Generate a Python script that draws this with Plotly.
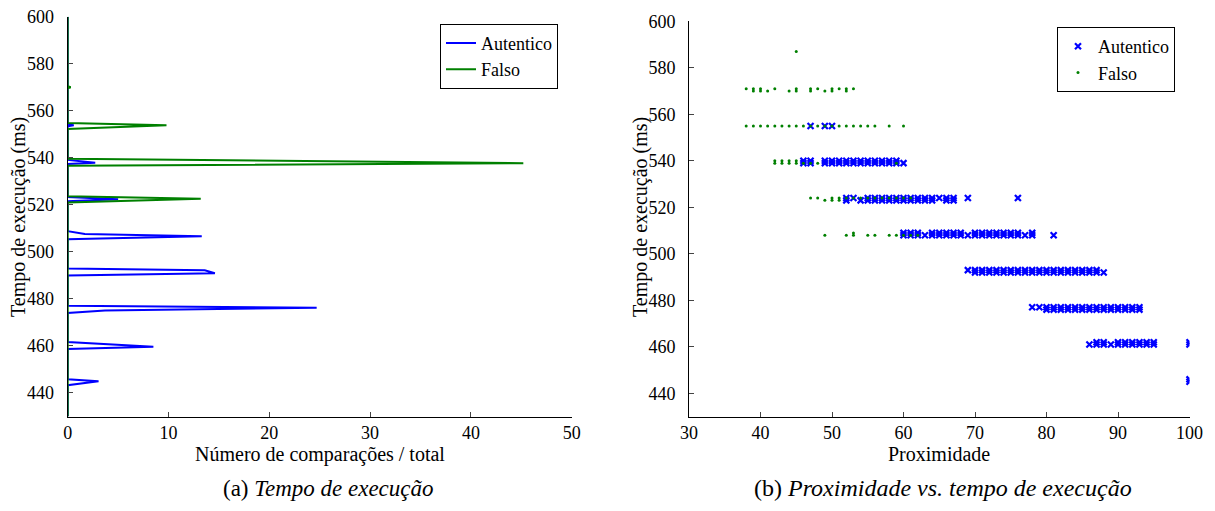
import plotly.graph_objects as go

# ---------------- Left panel: histogram-like lines (time vs. fraction) ----------------
autentico_tempo = [430, 443.3, 445.0, 445.8, 458.7, 459.7, 461.7, 474.0, 475.1, 476.2, 477.1,
                   490.0, 490.9, 492.2, 492.9, 505.4, 506.6, 507.6, 508.8, 521.5, 522.4, 523.3,
                   537.4, 537.9, 539.1, 553.4, 553.8, 554.2, 600]
autentico_frac = [0, 0, 3.06, 0, 0, 8.5, 0, 0, 3.7, 24.7, 0,
                  0, 14.6, 13.6, 0, 0, 13.3, 1.7, 0, 0, 5.0, 0,
                  0, 2.73, 0, 0, 0.6, 0, 0]
falso_tempo = [430, 521.0, 522.6, 523.7, 536.6, 537.7, 539.6, 552.3, 553.8, 554.8,
               569.6, 570.0, 570.4, 600]
falso_frac = [0, 0, 13.2, 0, 0, 45.2, 0, 0, 9.8, 0, 0, 0.3, 0, 0]

# ---------------- Right panel: proximity vs. execution time ----------------
aut_446 = [100]
aut_445 = [100]
aut_461 = [86, 87, 88, 89, 90, 91, 92, 93, 94, 95, 100]
aut_462 = [87, 88, 90, 91, 92, 93, 94, 95, 100]
aut_477 = [78, 79, 80, 81, 82, 83, 84, 85, 86, 87, 88, 89, 90, 91, 92, 93]
aut_476 = [80, 81, 82, 83, 84, 85, 86, 87, 88, 89, 90, 91, 92, 93]
aut_492 = [70, 71, 72, 73, 74, 75, 76, 77, 78, 79, 80, 81, 82, 83, 84, 85, 86, 87, 88]
aut_493 = [69, 70, 71, 72, 73, 74, 75, 76, 77, 78, 79, 80, 81, 82, 83, 84, 85, 86, 87]
aut_508 = [60, 61, 62, 63, 64, 65, 66, 67, 68, 69, 70, 71, 72, 73, 74, 75, 76, 77, 78, 81]
aut_509 = [60, 61, 62, 64, 65, 66, 67, 68, 70, 71, 72, 73, 74, 75, 76, 78]
aut_524 = [52, 53, 55, 56, 57, 58, 59, 60, 61, 62, 63, 64, 65, 66, 67, 69, 76]
aut_523 = [52, 54, 55, 56, 57, 58, 59, 60, 61, 62, 63, 64, 66, 67]
aut_539 = [46, 47, 49, 50, 51, 52, 53, 54, 55, 56, 57, 58, 59, 60]
aut_540 = [46, 47, 49, 50, 51, 52, 53, 54, 55, 56, 57, 58, 59]
aut_555 = [47, 49, 50]

fal_587 = [45]
fal_571 = [38, 39, 40, 42, 45, 47, 48, 50, 51, 52, 53]
fal_570 = [39, 40, 41, 44, 45, 47, 49, 50, 52]
fal_555 = [38, 39, 40, 41, 42, 43, 44, 45, 46, 47, 48, 49, 50, 51, 52, 53, 54, 55, 56, 58, 60]
fal_540 = [42, 43, 44, 45]
fal_539 = [42, 43, 44, 45, 46, 47, 48, 59]
fal_524 = [47, 48, 50, 51, 52, 53, 54, 55, 56, 57, 58, 59, 60, 61]
fal_523 = [49, 50, 51]
fal_509 = [53]
fal_508 = [49, 52, 53, 55, 56, 58, 59, 60, 61, 62]

aut_rows = [(446, aut_446), (445, aut_445), (461, aut_461), (462, aut_462), (477, aut_477),
            (476, aut_476), (492, aut_492), (493, aut_493), (508, aut_508), (509, aut_509),
            (524, aut_524), (523, aut_523), (539, aut_539), (540, aut_540), (555, aut_555)]
fal_rows = [(587, fal_587), (571, fal_571), (570, fal_570), (555, fal_555), (540, fal_540),
            (539, fal_539), (524, fal_524), (523, fal_523), (509, fal_509), (508, fal_508)]

aut_x, aut_y = [], []
for t, xs in aut_rows:
    aut_x += xs
    aut_y += [t] * len(xs)
fal_x, fal_y = [], []
for t, xs in fal_rows:
    fal_x += xs
    fal_y += [t] * len(xs)

BLUE = "#0000FF"
GREEN = "#008000"
FONT = "Liberation Serif"
W, H = 1215, 511

fig = go.Figure()
fig.add_trace(go.Scatter(x=autentico_frac, y=autentico_tempo, mode="lines", name="Autentico",
                         line=dict(color=BLUE, width=2), xaxis="x", yaxis="y", legend="legend"))
fig.add_trace(go.Scatter(x=falso_frac, y=falso_tempo, mode="lines", name="Falso",
                         line=dict(color=GREEN, width=2), xaxis="x", yaxis="y", legend="legend"))
fig.add_trace(go.Scatter(x=aut_x, y=aut_y, mode="markers", name="Autentico",
                         marker=dict(symbol="x-thin", size=6, line=dict(color=BLUE, width=2.2), color=BLUE),
                         xaxis="x2", yaxis="y2", legend="legend2"))
fig.add_trace(go.Scatter(x=fal_x, y=fal_y, mode="markers", name="Falso",
                         marker=dict(symbol="circle", size=3, color=GREEN),
                         xaxis="x2", yaxis="y2", legend="legend2"))

def px_x(p):
    return p / W

def px_y(p):
    return (H - p) / H

axis_common = dict(showline=True, linecolor="black", linewidth=1, ticks="inside", ticklen=5,
                   tickcolor="#444", showgrid=False, zeroline=False, mirror=False,
                   automargin=False,
                   tickfont=dict(family=FONT, size=18, color="black"))

fig.update_layout(
    width=W, height=H, margin=dict(l=0, r=0, t=0, b=0, autoexpand=False),
    paper_bgcolor="white", plot_bgcolor="white",
    font=dict(family=FONT, size=18, color="black"),
    xaxis=dict(domain=[px_x(67.7), px_x(571.7)], range=[0, 50], dtick=10, anchor="y",
               ticklabelstandoff=0, **axis_common),
    yaxis=dict(domain=[px_y(416.5), px_y(16.7)], range=[430, 600], tick0=0, dtick=20, anchor="x",
               ticklabelstandoff=9, **axis_common),
    xaxis2=dict(domain=[px_x(689), px_x(1189.5)], range=[30, 100], dtick=10, anchor="y2",
                ticklabelstandoff=0, **axis_common),
    yaxis2=dict(domain=[px_y(416.6), px_y(21.3)], range=[430, 600], tick0=0, dtick=20, anchor="x2",
                ticklabelstandoff=9, **axis_common),
    legend=dict(x=px_x(440), y=px_y(23.7), xanchor="left", yanchor="top",
                bgcolor="white", bordercolor="black", borderwidth=1,
                entrywidth=80, entrywidthmode="pixels",
                font=dict(family=FONT, size=18, color="black"), tracegroupgap=0),
    legend2=dict(x=px_x(1057), y=px_y(27), xanchor="left", yanchor="top",
                 bgcolor="white", bordercolor="black", borderwidth=1,
                 entrywidth=84, entrywidthmode="pixels",
                 font=dict(family=FONT, size=18, color="black"), tracegroupgap=0),
    showlegend=True,
)

annots = [
    dict(text="Número de comparações / total", x=px_x(320), y=px_y(454), size=20),
    dict(text="Proximidade", x=px_x(939), y=px_y(454), size=20),
    dict(text="Tempo de execução (ms)", x=px_x(18), y=px_y(217), textangle=-90, size=20),
    dict(text="Tempo de execução (ms)", x=px_x(640), y=px_y(217), textangle=-90, size=20),
    dict(text="(a) <i>Tempo de execução</i>", x=px_x(328), y=px_y(488), size=23),
    dict(text="(b) <i>Proximidade vs. tempo de execução</i>", x=px_x(943), y=px_y(488), size=24),
]
for a in annots:
    fig.add_annotation(text=a["text"], x=a["x"], y=a["y"], xref="paper", yref="paper",
                       xanchor="center", yanchor="middle", showarrow=False,
                       textangle=a.get("textangle", 0),
                       font=dict(family=FONT, size=a.get("size", 18), color="black"))

fig.write_html("out.html")
